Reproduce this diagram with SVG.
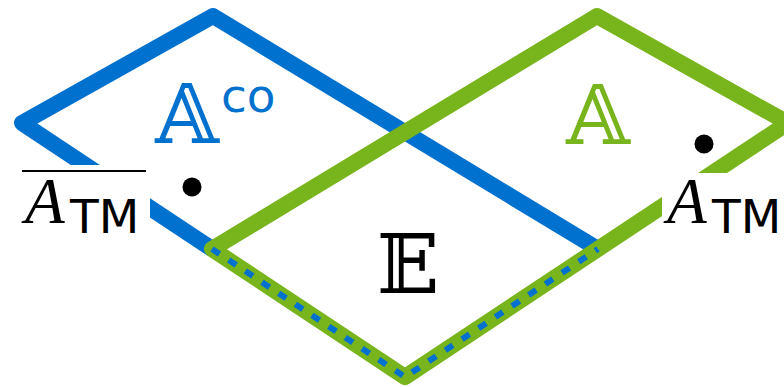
<svg xmlns="http://www.w3.org/2000/svg" width="784" height="387" viewBox="0 0 784 387">
<style>
.blue{fill:none;stroke:#0071CE;stroke-width:16;stroke-linejoin:round;stroke-linecap:butt}
.green{fill:none;stroke:#78B41B;stroke-width:16;stroke-linejoin:round}
.dash{fill:none;stroke:#0071CE;stroke-width:6;stroke-dasharray:9 11}
.bb{font-family:"DejaVu Serif","DejaVu Sans",serif;font-size:82px;text-anchor:middle}
.it{font-family:"Liberation Serif",serif;font-style:italic;font-size:65px;fill:#000}
.sf{font-family:"DejaVu Sans",sans-serif;font-size:47px}
</style>
<rect width="784" height="387" fill="#fff"/>
<g id="connectors">
<path class="blue" d="M212,249 L22,123 L213,16 L598,249"/>
<path class="green" d="M212,249 L597,16 L788,123 L405,377 Z"/>
<path class="dash" d="M212,249 L405,377 L598,249"/>
</g>
<g id="label-bg">
<rect x="0" y="165" width="150" height="80" fill="#fff"/>
<rect x="662" y="173" width="122" height="72" fill="#fff"/>
</g>
<g id="node-Aco">
<text class="bb" x="187" y="143" fill="#0071CE">𝔸</text>
<text class="sf" x="221" y="112" fill="#0071CE">co</text>
</g>
<g id="node-A">
<text class="bb" x="598" y="144" fill="#78B41B">𝔸</text>
</g>
<g id="node-E">
<text class="bb" x="408" y="293" fill="#000">𝔼</text>
</g>
<g id="node-ATMbar">
<line x1="22" y1="171" x2="146" y2="171" stroke="#000" stroke-width="2"/>
<text class="it" x="25" y="223">A</text>
<text class="sf" x="70" y="233" fill="#000">TM</text>
<circle cx="192" cy="187" r="9.5" fill="#000"/>
</g>
<g id="node-ATM">
<text class="it" x="667" y="223">A</text>
<text class="sf" x="712" y="233" fill="#000">TM</text>
<circle cx="704" cy="144" r="9.5" fill="#000"/>
</g>
</svg>
